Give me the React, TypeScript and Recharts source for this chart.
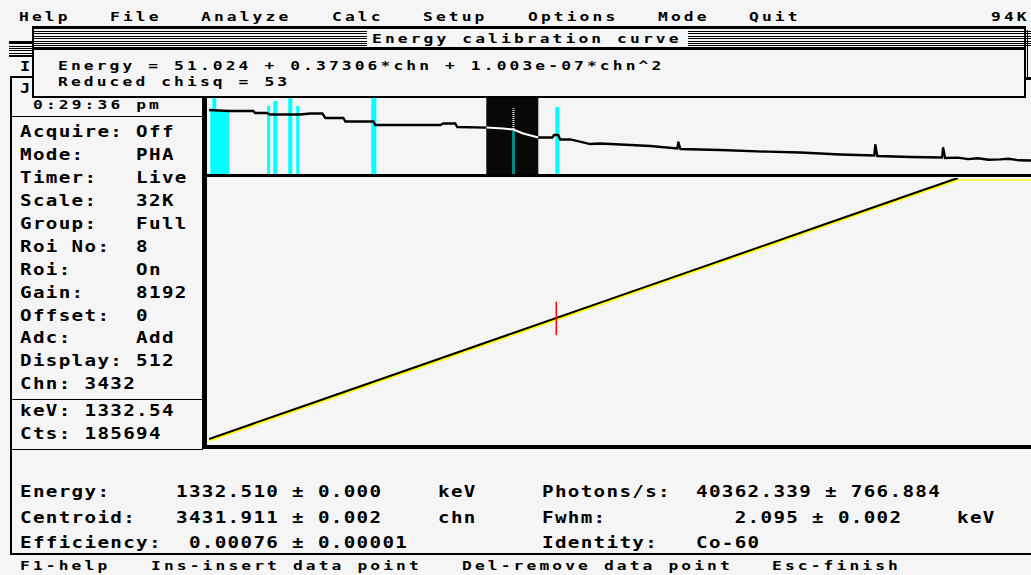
import {
  ComposedChart,
  LineChart,
  Line,
  XAxis,
  YAxis,
  ReferenceArea,
  ReferenceLine,
} from 'recharts';

// ---- data ----
const menuItems = ['Help', 'File', 'Analyze', 'Calc', 'Setup', 'Options', 'Mode', 'Quit'];

const statusLabels = ['Acquire:', 'Mode:', 'Timer:', 'Scale:', 'Group:', 'Roi No:', 'Roi:', 'Gain:', 'Offset:', 'Adc:', 'Display:'];
const statusValues = ['Off', 'PHA', 'Live', '32K', 'Full', '8', 'On', '8192', '0', 'Add', '512'];

const fitEquation = 'Energy = 51.024 + 0.37306*chn + 1.003e-07*chn^2';
const fitChisq = 'Reduced chisq = 53';

// spectrum strip (channel vs counts, log)
const specChannels = [0, 200, 438, 457, 566, 606, 902, 1001, 1120, 1150, 1328, 1348, 1624, 1644, 2285, 2315, 2433, 2453, 2740, 2908, 3006, 3105, 3254, 3392, 3410, 3451, 3470, 3570, 3768, 3867, 4361, 4628, 4638, 4658, 5053, 5517, 5843, 6238, 6574, 6584, 6604, 6930, 7244, 7254, 7274, 7400, 7500, 7600, 7700, 7818, 7900, 8000, 8124, 8192];
const specCounts = [147000, 127000, 127000, 94200, 94200, 75500, 75500, 87400, 87400, 45100, 45100, 26900, 26900, 16000, 16000, 20000, 20000, 11900, 11000, 9570, 8260, 4570, 2540, 2540, 3660, 3660, 1890, 1890, 971, 1045, 723, 500, 1365, 464, 401, 312, 277, 206, 178, 929, 165, 143, 132, 597, 123, 130, 105, 118, 95, 99, 110, 88, 85, 92];

// regions of interest (cyan)
const roiFrom = [13, 33, 574, 635, 783, 862, 1604, 3422];
const roiTo = [200, 72, 604, 675, 823, 892, 1654, 3462];
const roiPeak = [147000, 1000000, 265000, 555000, 1000000, 265000, 1000000, 229000];

// highlighted (selected) region and its peak
const hiliteRange = [2740, 3254];
const selRoi = [2994, 3024];
const selBase = 8900;
const selPeak = 190000;

// calibration curve
const calChannels = [0, 1000, 2000, 3000, 4000, 5000, 6000, 7000, 7400, 8192];
const calFit = [51.0, 424.2, 797.6, 1171.1, 1544.9, 1918.8, 2293.0, 2667.4, 2815, null];
const calPlotted = [51.0, 424.2, 797.6, 1171.1, 1544.9, 1918.8, 2293.0, 2667.4, 2815, 2815];
const peakChannel = 3432;
const peakEnergy = [1150, 1505];

const resultsLeft = [
  ['Energy:', '1332.510 \u00b1 0.000', 'keV'],
  ['Centroid:', '3431.911 \u00b1 0.002', 'chn'],
  ['Efficiency:', ' 0.00076 \u00b1 0.00001', ''],
];
const resultsRight = [
  ['Photons/s:', '40362.339 \u00b1 766.884', ''],
  ['Fwhm:', '   2.095 \u00b1 0.002', 'keV'],
  ['Identity:', 'Co-60', ''],
];
const hotkeys = ['F1-help', 'Ins-insert data point', 'Del-remove data point', 'Esc-finish'];

// ---- layout ----
const FONT = '"DejaVu Sans Mono", "Liberation Mono", monospace';
const BG = '#f5f5f5';
const menuX = [19, 110, 201, 332, 423, 528, 658, 749];
const hotkeyX = [20, 151, 462, 772];
const stripeY = [30.5, 33, 35.5, 38, 40.5, 43, 45.3];
const leftStripeY = [41, 43.3, 45.7, 48, 50.3, 52.7, 55];

function Txt({ x, y, text, size = 16, sx = 1.2, pitch = 12.9 }: { x: number; y: number; text: string; size?: number; sx?: number; pitch?: number }) {
  const ls = pitch / sx - 0.602 * size;
  return (
    <div
      style={{
        position: 'absolute',
        left: x,
        top: y - 0.48 * size,
        height: size,
        lineHeight: `${size}px`,
        fontFamily: FONT,
        fontWeight: 700,
        fontSize: size,
        letterSpacing: ls,
        whiteSpace: 'pre',
        transform: `scaleX(${sx})`,
        transformOrigin: '0 50%',
        color: '#000',
      }}
    >
      {text}
    </div>
  );
}

function Rule({ x, y, w, h, c = '#000' }: { x: number; y: number; w: number; h: number; c?: string }) {
  return <div style={{ position: 'absolute', left: x, top: y, width: w, height: h, background: c }} />;
}

export default function App() {
  const specData = specChannels.map((ch, i) => ({
    ch,
    counts: specCounts[i],
    hi: ch >= hiliteRange[0] && ch <= hiliteRange[1] ? specCounts[i] : null,
  }));
  const calData = calChannels.map((ch, i) => ({ ch, fit: calFit[i], plotted: calPlotted[i] }));

  return (
    <div style={{ position: 'fixed', left: 0, top: 0, width: 1031, height: 575, overflow: 'hidden', background: BG }}>
      <style>{'.yel .recharts-curve { transform: translate(0px, 1.5px); }'}</style>

      {/* spectrum strip */}
      <div style={{ position: 'absolute', left: 208.7, top: 97 }}>
        <ComposedChart width={829} height={78} data={specData} margin={{ top: 0, right: 0, bottom: 0, left: 0 }}>
          <XAxis dataKey="ch" type="number" domain={[0, 8192]} hide />
          <YAxis type="number" scale="log" domain={[10, 1000000]} allowDataOverflow hide />
          <ReferenceArea x1={hiliteRange[0]} x2={hiliteRange[1]} y1={10} y2={1000000} fill="#080808" fillOpacity={1} stroke="none" />
          <Line dataKey="counts" stroke="#000" strokeWidth={2.3} dot={false} isAnimationActive={false} type="linear" />
          {roiFrom.map((f, i) => (
            <ReferenceArea key={i} x1={f} x2={roiTo[i]} y1={10} y2={roiPeak[i]} fill="#00ffff" fillOpacity={1} stroke="none" />
          ))}
          <Line dataKey="hi" stroke="#fff" strokeWidth={2} dot={false} isAnimationActive={false} type="linear" />
          <ReferenceArea x1={selRoi[0]} x2={selRoi[1]} y1={10} y2={selBase} fill="#008b8b" fillOpacity={1} stroke="none" />
          <ReferenceLine
            segment={[{ x: (selRoi[0] + selRoi[1]) / 2, y: selBase }, { x: (selRoi[0] + selRoi[1]) / 2, y: selPeak }]}
            stroke="#ffffff"
            strokeWidth={2}
            strokeDasharray="1 1"
          />
        </ComposedChart>
      </div>

      {/* calibration curve */}
      <div style={{ position: 'absolute', left: 208.7, top: 176 }}>
        <LineChart width={829} height={270} data={calData} margin={{ top: 2, right: 0, bottom: 1, left: 0 }}>
          <XAxis dataKey="ch" type="number" domain={[0, 8192]} hide />
          <YAxis type="number" domain={[-13, 2815]} allowDataOverflow hide />
          <Line className="yel" dataKey="plotted" stroke="#ffff00" strokeWidth={2.5} dot={false} isAnimationActive={false} />
          <Line dataKey="fit" stroke="#000" strokeWidth={2} dot={false} isAnimationActive={false} />
          <ReferenceLine
            segment={[{ x: peakChannel, y: peakEnergy[0] }, { x: peakChannel, y: peakEnergy[1] }]}
            stroke="#ff0000"
            strokeWidth={1.5}
          />
        </LineChart>
      </div>

      {/* frame lines */}
      <Rule x={203} y={173.5} w={830} h={3.5} />
      <Rule x={203} y={445} w={830} h={4} />
      <Rule x={202} y={76} w={4.5} h={373} />
      <Rule x={10} y={76} w={1.6} h={374} />
      <Rule x={10} y={76} w={24} h={1.6} />
      <Rule x={10} y={115.5} w={193} h={1.6} />
      <Rule x={10} y={398.5} w={193} h={1.6} />
      <Rule x={10} y={448.5} w={193} h={1.6} />
      <Rule x={10} y={449} w={1.6} h={106} />
      <Rule x={10} y={553} w={1025} h={1.8} />
      {leftStripeY.map((y, i) => (
        <Rule key={i} x={9} y={y} w={24} h={i === 0 || i === leftStripeY.length - 1 ? 2 : 1.2} />
      ))}
      {stripeY.map((y, i) => (
        <Rule key={'r' + i} x={1026} y={y} w={6} h={1.2} />
      ))}
      <Rule x={1026.5} y={30} w={1.5} h={50} />
      <Rule x={1026} y={77} w={6} h={3} />

      {/* menu */}
      {menuItems.map((m, i) => (
        <Txt key={m} x={menuX[i]} y={17} text={m} size={12.5} sx={1.3} />
      ))}
      <Txt x={991} y={17} text="94K" size={12.5} sx={1.3} />

      {/* left panel */}
      <Txt x={20} y={66} text="I" size={14} />
      <Txt x={20} y={88} text="J" size={14} />
      <Txt x={33} y={104} text="0:29:36 pm" size={13} sx={1.25} />
      {statusLabels.map((l, i) => (
        <Txt key={l} x={20} y={132 + i * 22.9} text={l.padEnd(9, ' ') + statusValues[i]} size={16} />
      ))}
      <Txt x={20} y={384} text="Chn: 3432" size={16} />
      <Txt x={20} y={411} text="keV: 1332.54" size={16} />
      <Txt x={20} y={434} text="Cts: 185694" size={16} />

      {/* results */}
      {resultsLeft.map((r, i) => (
        <div key={r[0]}>
          <Txt x={20} y={491.5 + i * 25.8} text={r[0]} size={16} />
          <Txt x={176} y={491.5 + i * 25.8} text={r[1]} size={16} />
          {r[2] && <Txt x={438} y={491.5 + i * 25.8} text={r[2]} size={16} />}
        </div>
      ))}
      {resultsRight.map((r, i) => (
        <div key={r[0]}>
          <Txt x={542} y={491.5 + i * 25.8} text={r[0]} size={16} />
          <Txt x={696} y={491.5 + i * 25.8} text={r[1]} size={16} />
          {r[2] && <Txt x={957} y={491.5 + i * 25.8} text={r[2]} size={16} />}
        </div>
      ))}
      {hotkeys.map((h, i) => (
        <Txt key={h} x={hotkeyX[i]} y={566} text={h} size={12.5} sx={1.3} />
      ))}

      {/* popup */}
      <div style={{ position: 'absolute', left: 32, top: 26, width: 994, height: 72, background: BG }} />
      <Rule x={32} y={26} w={994} h={2.5} />
      {stripeY.map((y, i) => (
        <div key={'p' + i}>
          <Rule x={34} y={y} w={333} h={1.2} />
          <Rule x={688} y={y} w={336} h={1.2} />
        </div>
      ))}
      <Rule x={32} y={47} w={994} h={2.5} />
      <Rule x={32} y={26} w={1.8} h={72} />
      <Rule x={1024} y={26} w={1.8} h={72} />
      <Rule x={32} y={96} w={994} h={1.8} />
      <Txt x={372} y={38.5} text="Energy calibration curve" size={12.5} sx={1.3} />
      <Txt x={58} y={66} text={fitEquation} size={12.5} sx={1.3} />
      <Txt x={58} y={82} text={fitChisq} size={12.5} sx={1.3} />
    </div>
  );
}
